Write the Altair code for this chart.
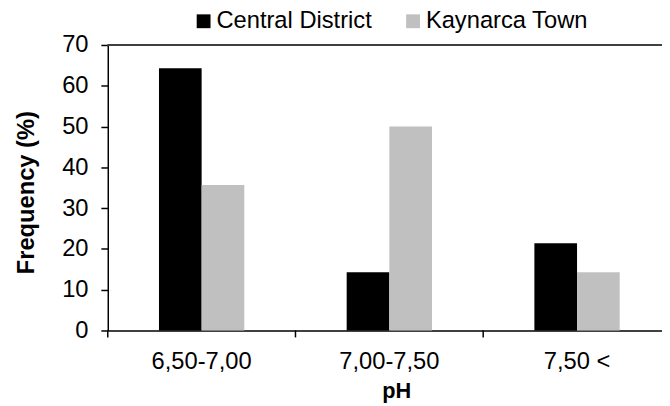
import altair as alt
import pandas as pd

categories = ["6,50-7,00", "7,00-7,50", "7,50 <"]
series_names = ["Central District", "Kaynarca Town"]
central = [64.3, 14.3, 21.4]
kaynarca = [35.7, 50.0, 14.3]
series_colors = ["#000000", "#c0c0c0"]
y_ticks = [0, 10, 20, 30, 40, 50, 60, 70]

rows = []
for c, v in zip(categories, central):
    rows.append({"pH": c, "series": series_names[0], "value": v})
for c, v in zip(categories, kaynarca):
    rows.append({"pH": c, "series": series_names[1], "value": v})
df = pd.DataFrame(rows)
cat_df = pd.DataFrame({"pH": categories})

FONT = "Liberation Sans"

x_scale = alt.Scale(domain=categories, range=[0, 570], paddingInner=0, paddingOuter=0)
offset_domain = ["_gapL"] + series_names + ["_gapR"]

bars = alt.Chart(df).mark_bar().encode(
    x=alt.X("pH:N", sort=categories, scale=x_scale,
            axis=alt.Axis(title="pH", ticks=False, labelPadding=19, labelAngle=0,
                          labelFontSize=24, titleFontSize=22, titleFontWeight="bold",
                          titleX=292, titleY=68, titleBaseline="alphabetic",
                          domainColor="#000000", domainWidth=1.5)),
    xOffset=alt.XOffset("series:N",
                        scale=alt.Scale(domain=offset_domain, paddingInner=0, paddingOuter=0.2)),
    y=alt.Y("value:Q", scale=alt.Scale(domain=[0, 70], nice=False),
            axis=alt.Axis(title="Frequency (%)", values=y_ticks, grid=False,
                          tickSize=7, tickColor="#000000", tickWidth=1.5,
                          domainColor="#000000", domainWidth=1.5,
                          labelFontSize=24, labelPadding=13,
                          titleFontSize=24, titleFontWeight="bold",
                          titleX=-82, titleY=149, titleBaseline="middle", titleAlign="center")),
    color=alt.Color("series:N", sort=series_names,
                    scale=alt.Scale(domain=series_names, range=series_colors),
                    legend=alt.Legend(title=None, orient="none", legendX=85, legendY=-36,
                                      direction="horizontal", symbolType="square",
                                      symbolSize=196, symbolStrokeWidth=0,
                                      labelFontSize=24, labelFont=FONT, labelColor="#000000",
                                      labelLimit=400, labelOffset=1, columnPadding=29,
                                      padding=0)),
)

x_ticks = alt.Chart(cat_df).mark_rule(color="#000000", strokeWidth=1.5).encode(
    x=alt.X("pH:N", sort=categories, bandPosition=0),
    y=alt.value(289),
    y2=alt.value(296),
)

top_line = alt.Chart(cat_df).mark_rule(color="#404040", strokeWidth=2).encode(
    x=alt.value(0),
    x2=alt.value(570),
    y=alt.datum(70),
)

chart = alt.layer(bars, top_line, x_ticks).properties(
    width=561,
    height=289,
    autosize=alt.AutoSizeParams(type="none"),
    padding={"left": 101, "top": 35, "right": 0, "bottom": 74},
).configure_axis(
    labelFont=FONT, titleFont=FONT, labelColor="#000000", titleColor="#000000"
).configure_view(strokeWidth=0)

chart.save("out.html", embed_options={"renderer": "svg", "actions": False})
